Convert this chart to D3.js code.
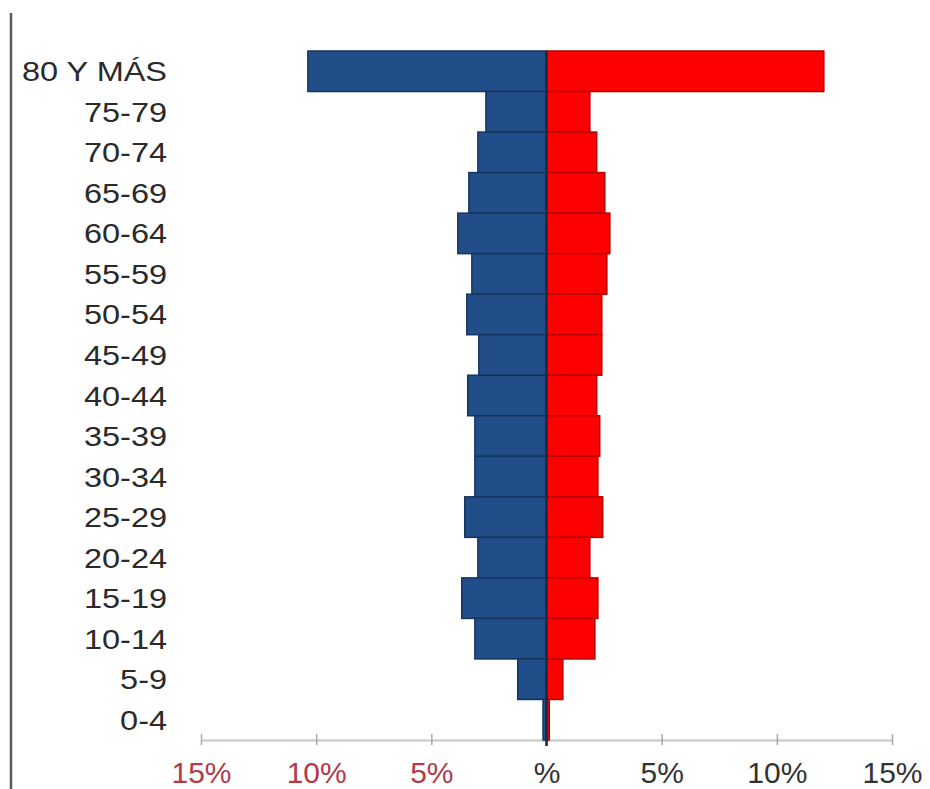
<!DOCTYPE html>
<html>
<head>
<meta charset="utf-8">
<script src="https://cdn.jsdelivr.net/npm/d3@7/dist/d3.min.js"></script>
<style>
  html, body { margin: 0; padding: 0; background: #fff; }
  svg { display: block; }
</style>
</head>
<body>
<svg id="chart" width="930" height="789"></svg>
<script>
// Age groups, oldest at the top
const ageGroups = ["80 Y MÁS", "75-79", "70-74", "65-69", "60-64", "55-59", "50-54",
  "45-49", "40-44", "35-39", "30-34", "25-29", "20-24", "15-19", "10-14", "5-9", "0-4"];
// Share of population (%) per age group
const hombres = [10.36, 2.63, 2.98, 3.37, 3.85, 3.24, 3.46, 2.94, 3.42, 3.11, 3.11, 3.55, 2.98, 3.68, 3.11, 1.25, 0.15];
const mujeres = [12.04, 1.88, 2.18, 2.53, 2.75, 2.62, 2.40, 2.40, 2.18, 2.31, 2.23, 2.44, 1.88, 2.23, 2.10, 0.71, 0.12];
// Axis ticks (signed: left side is men)
const tickValues = [-15, -10, -5, 0, 5, 10, 15];
const tickLabels = ["15%", "10%", "5%", "%", "5%", "10%", "15%"];

const svg = d3.select("#chart");

const x = d3.scaleLinear().domain([-15, 15]).range([201, 892]);
const y = d3.scaleBand().domain(ageGroups).range([51, 740]).padding(0);

// frame line on the left
svg.append("line")
  .attr("x1", 11).attr("x2", 11).attr("y1", 13).attr("y2", 789)
  .attr("stroke", "#5a5a5a").attr("stroke-width", 2.5);

// x axis
const xAxis = svg.append("g")
  .attr("transform", `translate(0,${y.range()[1]})`)
  .call(d3.axisBottom(x).tickValues(tickValues).tickSize(0).tickFormat((d, i) => tickLabels[i]));
xAxis.select(".domain").attr("stroke", "#cfcfcf").attr("stroke-width", 2.5);
xAxis.selectAll(".tick line").remove();
xAxis.selectAll(".tick").append("line")
  .attr("y1", -6).attr("y2", 5).attr("stroke", "#a8a8a8").attr("stroke-width", 1.5);
xAxis.selectAll(".tick text")
  .attr("y", 43).attr("dy", 0)
  .attr("font-family", "Liberation Sans, Arial, sans-serif")
  .attr("font-size", 30)
  .attr("fill", d => d < 0 ? "#b23a4a" : "#333333");

const rows = svg.append("g");
const idx = d3.range(ageGroups.length);

// men (left)
rows.selectAll("rect.h").data(idx).join("rect")
  .attr("class", "h")
  .attr("x", i => x(-hombres[i]))
  .attr("y", i => y(ageGroups[i]))
  .attr("width", i => x(0) - x(-hombres[i]))
  .attr("height", y.bandwidth())
  .attr("fill", "#214d88")
  .attr("stroke", "#17355e")
  .attr("stroke-width", 1.5);

// women (right)
rows.selectAll("rect.m").data(idx).join("rect")
  .attr("class", "m")
  .attr("x", x(0))
  .attr("y", i => y(ageGroups[i]))
  .attr("width", i => x(mujeres[i]) - x(0))
  .attr("height", y.bandwidth())
  .attr("fill", "#ff0000")
  .attr("stroke", "#b80000")
  .attr("stroke-width", 1.5);

// centre line
svg.append("line")
  .attr("x1", x(0)).attr("x2", x(0))
  .attr("y1", y.range()[0]).attr("y2", y.range()[1] + 6)
  .attr("stroke", "#1b2a42").attr("stroke-width", 2.5);

// age labels
svg.append("g").selectAll("text").data(ageGroups).join("text")
  .attr("transform", d => `translate(167,${y(d) + y.bandwidth() / 2 + 10}) scale(1.16,1)`)
  .attr("text-anchor", "end")
  .attr("font-family", "Liberation Sans, Arial, sans-serif")
  .attr("font-size", 28)
  .attr("fill", "#2a2a2a")
  .text(d => d);
</script>
</body>
</html>
